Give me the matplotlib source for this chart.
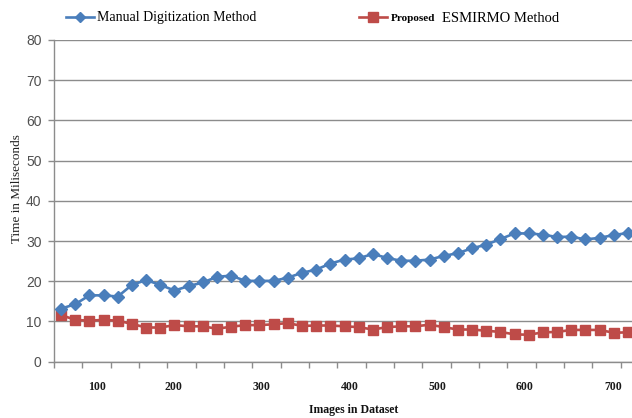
import numpy as np
import matplotlib
matplotlib.use("Agg")
import matplotlib.pyplot as plt

# ---- data ----
manual = [13.2, 14.3, 16.5, 16.5, 16.2, 19.1, 20.3, 19.1, 17.7, 18.8,
          19.7, 21.1, 21.4, 20.1, 20.1, 20.1, 20.9, 22.1, 22.9, 24.4,
          25.4, 25.7, 26.8, 25.8, 25.1, 25.1, 25.4, 26.3, 27.0, 28.2,
          29.1, 30.5, 31.9, 31.9, 31.6, 31.0, 31.1, 30.4, 30.8, 31.5, 32.0]
proposed = [11.6, 10.4, 10.2, 10.4, 10.2, 9.4, 8.5, 8.5, 9.1, 8.8,
            8.8, 8.2, 8.7, 9.1, 9.1, 9.3, 9.6, 8.9, 9.0, 9.0,
            8.8, 8.6, 8.0, 8.6, 8.8, 8.8, 9.2, 8.6, 8.0, 8.0,
            7.7, 7.4, 6.8, 6.7, 7.3, 7.4, 7.9, 7.9, 7.9, 7.2, 7.3]
xtick_labels = ["100", "200", "300", "400", "500", "600", "700"]
xtick_at = [2.51, 7.92, 14.11, 20.34, 26.55, 32.74, 38.98]
yticks = [0, 10, 20, 30, 40, 50, 60, 70, 80]

BLUE = "#4A7EBB"
RED = "#BE4B48"
SERIF = ["Liberation Serif", "DejaVu Serif"]
SANS = ["Liberation Sans", "DejaVu Sans"]

fig = plt.figure(figsize=(6.32, 4.18), dpi=100)
ax = fig.add_axes([54 / 632, (418 - 361.7) / 418, (635 - 54) / 632, 321.7 / 418])

x = np.arange(len(manual))
l1, = ax.plot(x, manual, color=BLUE, lw=1.9, marker="D", ms=5.8,
              markeredgecolor=BLUE, markerfacecolor=BLUE, zorder=4)
l2, = ax.plot(x, proposed, color=RED, lw=1.9, marker="s", ms=7,
              markeredgecolor=RED, markerfacecolor=RED, zorder=3)

ax.set_xlim(-0.5, len(manual) - 0.5)
ax.set_ylim(0, 80)
ax.set_yticks(yticks)
ax.yaxis.grid(True, color="#8C8C8C", lw=1.0)
ax.set_axisbelow(True)

for s in ["top", "right"]:
    ax.spines[s].set_visible(False)
for s in ["left", "bottom"]:
    ax.spines[s].set_color("#8C8C8C")
    ax.spines[s].set_linewidth(1.0)

ax.tick_params(axis="y", direction="out", length=4, width=1, color="#8C8C8C",
               pad=5, labelsize=10, labelcolor="#505050")
for t in ax.get_yticklabels():
    t.set_family(SANS)

# tick marks between category pairs, labels separately
ax.set_xticks(np.arange(-0.5, len(manual), 2))
ax.set_xticklabels([])
ax.tick_params(axis="x", which="major", direction="out", length=4, width=1,
               color="#8C8C8C")
ax.set_xticks(xtick_at, minor=True)
ax.set_xticklabels(xtick_labels, minor=True, fontfamily=SERIF,
                   fontweight="bold", fontsize=8.5, color="#1a1a1a")
ax.tick_params(axis="x", which="minor", length=0, pad=14)

ax.set_xlabel("Images in Dataset", fontfamily=SERIF, fontweight="bold",
              fontsize=8.5, color="#111111")
ax.xaxis.set_label_coords((354 - 54) / 581, (361.7 - 410) / 321.7)
ax.xaxis.label.set_va("center")

ax.set_ylabel("Time in Miliseconds", fontfamily=SERIF, fontsize=9.5,
              color="#222222")
ax.yaxis.set_label_coords((17 - 54) / 581, (361.7 - 189) / 321.7)
ax.yaxis.label.set_va("center")

# legends
leg1 = fig.legend([l1], ["Manual Digitization Method"], loc="center left",
                  bbox_to_anchor=(66 / 632, 1 - 18 / 418), frameon=False,
                  prop={"family": SERIF, "size": 10}, handlelength=2.0,
                  handletextpad=0.25, borderpad=0, borderaxespad=0)
for h in leg1.legend_handles:
    h.set_markersize(5)
leg2 = fig.legend([l2], ["ESMIRMO Method"], loc="center left",
                  bbox_to_anchor=(359 / 632, 1 - 18 / 418), frameon=False,
                  prop={"family": SERIF, "size": 10.5}, handlelength=1.9,
                  handletextpad=3.8, borderpad=0, borderaxespad=0)
for h in leg2.legend_handles:
    h.set_markersize(6.5)
fig.text(391 / 632, 1 - 18.5 / 418, "Proposed", fontfamily=SERIF,
         fontweight="bold", fontsize=8, va="center", ha="left")

fig.savefig("out.png", dpi=100)
